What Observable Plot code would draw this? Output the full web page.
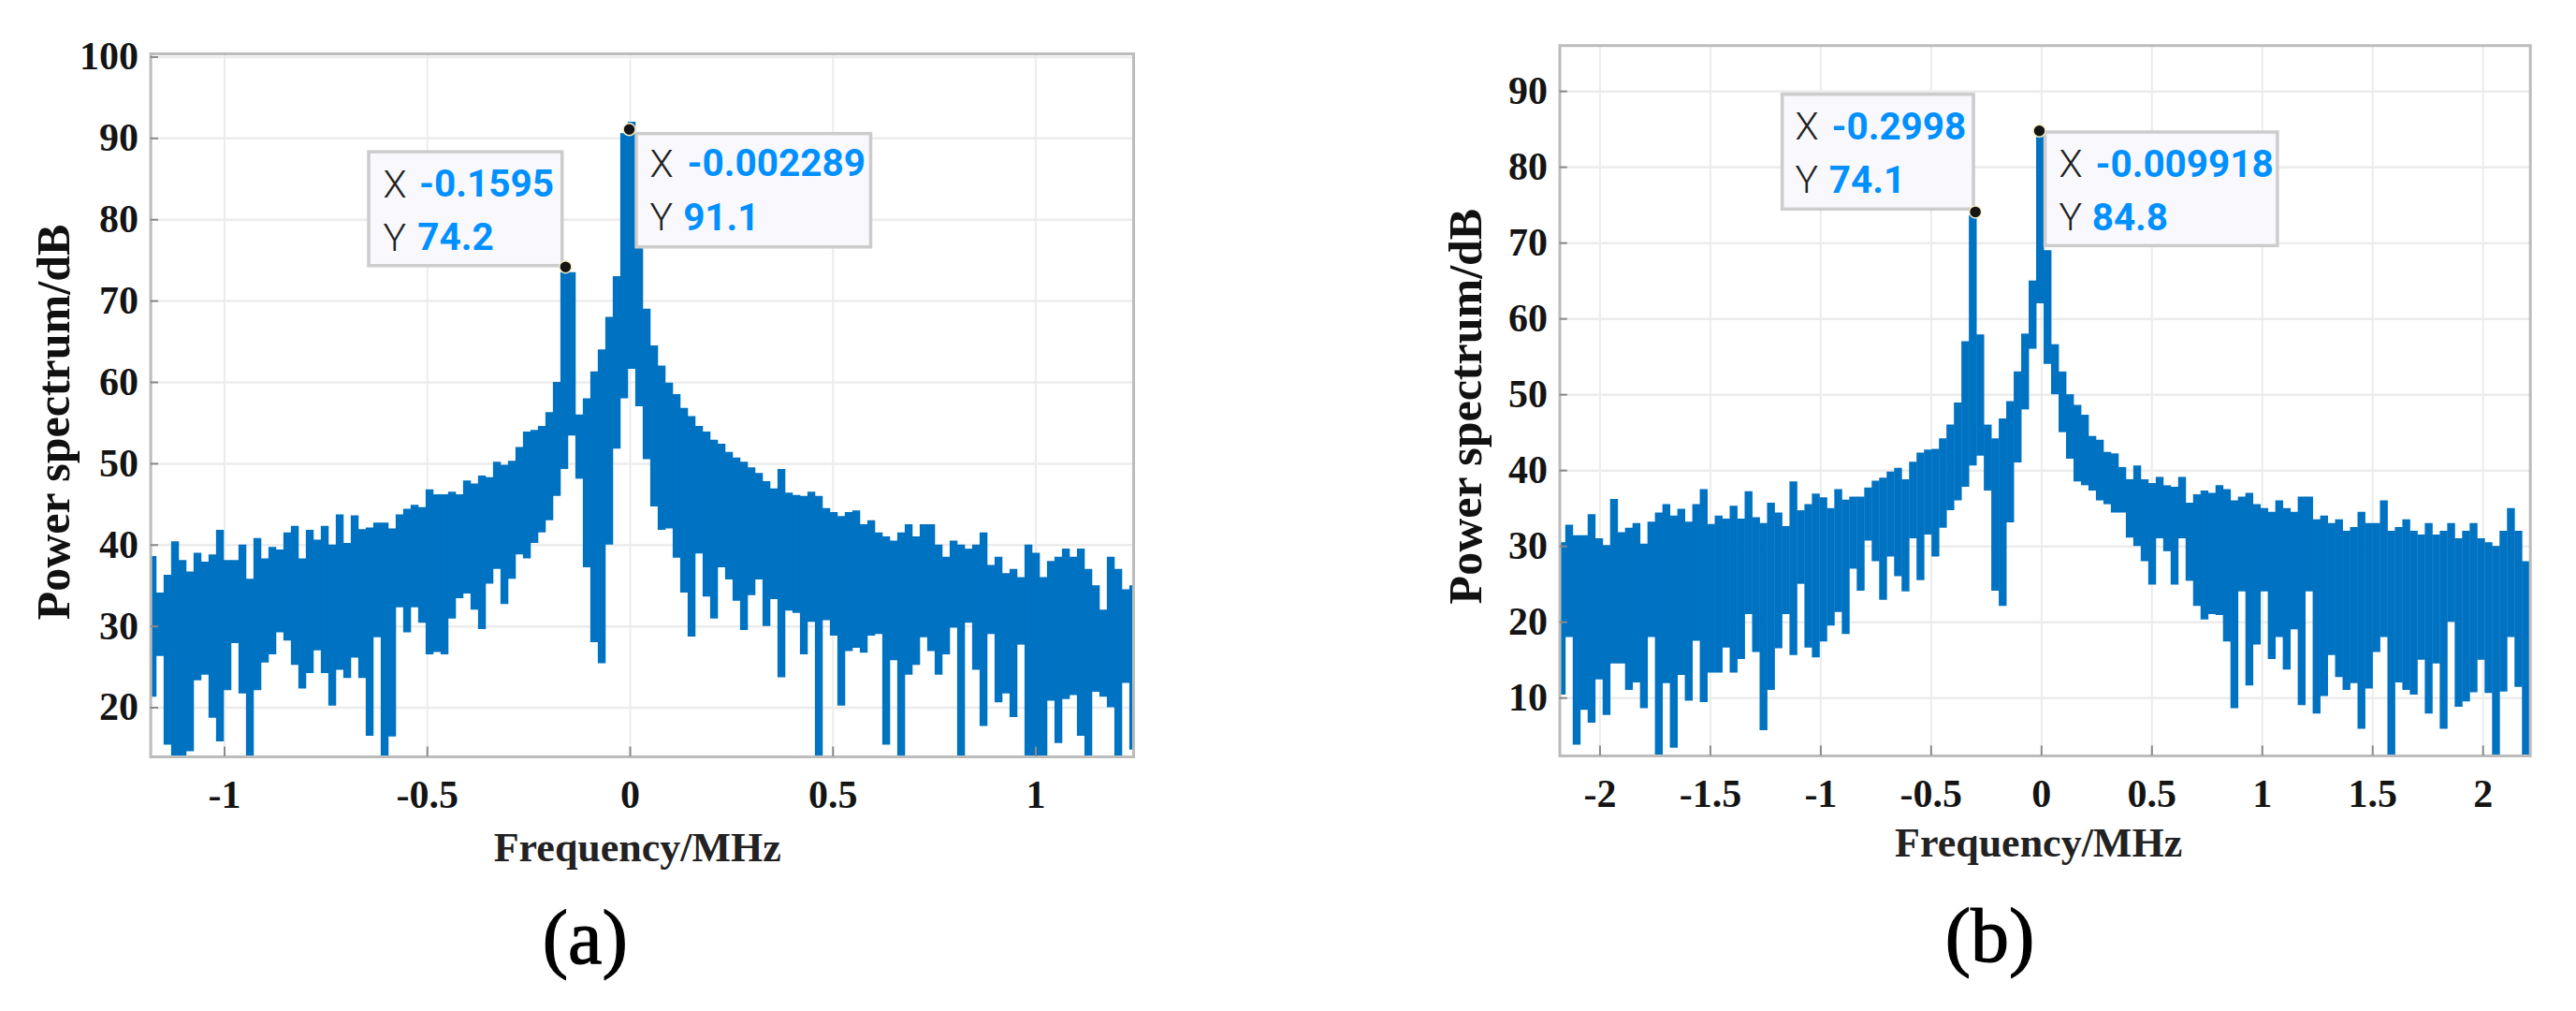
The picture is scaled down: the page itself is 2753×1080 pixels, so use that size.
<!DOCTYPE html>
<html><head><meta charset="utf-8">
<script src="https://cdn.jsdelivr.net/npm/d3@7"></script>
<script src="https://cdn.jsdelivr.net/npm/@observablehq/plot@0.6"></script>
<style>
html,body{margin:0;padding:0;background:#fff;width:2753px;height:1080px;overflow:hidden}
#root{position:relative;width:2753px;height:1080px}
#root svg{position:absolute;top:0;max-width:none;background:transparent}
</style></head><body><div id="root"></div>
<script>
// ---- panel (a) ----
const startA=-1.1775, stepA=0.018455;
const upperA=[38.6,34.1,36.3,40.4,38.1,36.7,39,37.9,38.8,41.8,
38.1,38.1,40,35.8,40.8,38.3,39.7,39.4,41.5,42.3,
38.3,41.8,40.6,42.3,40,43.7,40.2,43.6,41.9,42.1,
42.7,42.7,42,43.7,44.4,44.9,44.6,46.8,46.2,46.2,
46.5,46.2,47.9,47.5,48.5,48.3,50.2,49.8,50.3,52,
53.9,54.1,54.6,56.3,60,73.5,73.5,56,58,61.3,
64,68,73,90.6,92,77,69,64.5,62,59.9,
58.5,56.8,55.8,54.6,53.9,52.9,52.4,51.4,50.7,50.2,
49.5,48.8,47.8,46.9,49.3,46.4,46.1,46,46.5,46,
44.5,44,43.5,44,44.2,42.5,43,41.5,41,40.5,
41.5,42.5,41,42.5,42.5,40,38.5,40.5,40,39.5,
40,41.5,37.5,38.5,36.5,37,36,40,39,36,
38,38.5,39.5,38.5,39.5,37,35,32,38.5,37,
34.5,35];
const lowerA=[21.3,26.3,15.4,13,13,14.6,23.3,24,18.7,15.8,
22.1,27.9,21.7,13,22.1,25.5,26.5,29.2,28.2,25.2,
22.3,24.2,27,24.2,20.2,24.6,23.6,26.1,23.6,16.5,
28.6,13,16.4,32.3,29.2,32.3,30.4,26.5,26.8,26.5,
30.9,33.4,34,32,29.6,35.2,37,32.7,35.8,38.8,
38.3,40.2,41.5,43,46,49.3,53.4,48.1,37.2,28,
25.4,40,51.8,58,61.6,57,50.5,44.7,41.8,42,
38.4,34.1,28.7,38.9,33.6,30.9,37.2,35.7,33.1,29.5,
33.8,35.7,30,33.3,23.7,31.9,31.6,26.5,30.5,13,
30.7,28.8,20.2,26.9,27.3,26.7,28.8,29,15.4,25.8,
13,24,25.2,28.6,26.9,24,26.5,29.8,13,30.4,
24.6,17.7,29,20.6,21.7,18.8,27.7,13,13,13,
20.8,15.6,21,21.5,16.5,13,21.9,21.3,20,13,
23,14.8];
const xTicksA=[-1,-0.5,0,0.5,1];
const yTicksA=[20,30,40,50,60,70,80,90,100];
const xDomainA=[-1.182,1.241], yDomainA=[13.96,100.4];
const peaksXA=[-0.1595,-0.002289], peaksYA=[74.2,91.1];
const boxesA=[{x1:-0.6436,x2:-0.1668,y1:74.3,y2:88.3},{x1:0.0162,x2:0.594,y1:76.6,y2:90.54}];
const tipKeysA=[{t:"X",x:-0.609,y:84.29},{t:"Y",x:-0.609,y:77.73},{t:"X",x:0.0484,y:86.82},{t:"Y",x:0.0484,y:80.18}];
const tipValsA=[{t:"-0.1595",x:-0.52,y:84.29},{t:"74.2",x:-0.5243,y:77.73},{t:"-0.002289",x:0.1407,y:86.82},{t:"91.1",x:0.1306,y:80.18}];

// ---- panel (b) ----
const startB=-2.1735, stepB=0.033855;
const upperB=[30.5,32.8,31.4,31.4,34.2,31,30.1,36.2,31.8,32.4,
33,30.3,33.2,34.4,35.5,34,34.9,33.2,35.5,37.5,
32.9,34,33.6,35.3,33.6,37.2,33.8,33,35.7,34.4,
32.6,38.5,34.7,35.5,36.9,36.4,35,37.5,36.1,36.5,
36.5,37.7,38.6,39,39.8,40.3,38.8,41.1,42.3,42.7,
42.8,44.2,46,48.9,57,73.6,57.9,46,44.2,46.8,
49.1,53,58,65,84.3,69,56.6,53,50,48.6,
47.3,44.5,44,42.4,42.2,40.4,38.8,40.6,38.8,38.3,
39.1,38,37.8,39.1,35.7,36.8,37.3,37,38,37.5,
36,36.5,37,35.5,35,34.5,36,35,34.5,36.5,
36.5,33.5,34,33,33.5,32,32.5,34.5,33,33,
36,32,32.5,33.5,32,31.5,33,31.5,32,33,
31,32,33,31,30.5,30,32,35,32,28];
const lowerB=[10.4,18,3.8,8.4,6.7,12.4,7.7,14.5,14.5,11,
12,8.6,18,2,11.9,3.4,13,9.6,17.5,9.4,
13.3,13.3,16.6,13.3,15.1,21,16,5.7,11,16.5,
21,15.6,25,16.6,15.3,17.4,19.5,21.3,18.4,27,
24.1,30.7,28,22.9,28.6,26,24,31,25.5,31.5,
28.6,32.4,34.7,36,37.8,40.6,41.9,37.3,24.1,22.1,
33.1,41,48,56,62,54,50,45,41.5,38.5,
38,37.3,36,35.5,34.4,34.4,31.1,30,28,24.9,
31,29.3,24.9,31,25.4,22.1,20.3,21,20.9,17.4,
8.6,24,11.6,17,24,15.1,18,13.7,19,9,
24,7.9,10.2,15.6,12.7,11,11.9,5.9,11.2,16,
18,2,12,11,10.4,15,7.9,14.5,5.9,20,
8.8,9.5,10.7,15,10.6,2,10.8,18,11.4,2];
const xTicksB=[-2,-1.5,-1,-0.5,0,0.5,1,1.5,2];
const yTicksB=[10,20,30,40,50,60,70,80,90];
const xDomainB=[-2.182,2.214], yDomainB=[2.37,96.04];
const peaksXB=[-0.2998,-0.009918], peaksYB=[74.1,84.8];
const boxesB=[{x1:-1.1727,x2:-0.3063,y1:74.42,y2:89.56},{x1:0.0178,x2:1.0703,y1:69.6,y2:84.58}];
const tipKeysB=[{t:"X",x:-1.116,y:85.32},{t:"Y",x:-1.116,y:78.2},{t:"X",x:0.0791,y:80.38},{t:"Y",x:0.0791,y:73.26}];
const tipValsB=[{t:"-0.2998",x:-0.951,y:85.32},{t:"74.1",x:-0.9624,y:78.2},{t:"-0.009918",x:0.2442,y:80.38},{t:"84.8",x:0.2281,y:73.26}];

const BLUE="#0072c2", TIP="#0090ff", GRID="#ececec", FRAME="#bcbcbc";
const SERIF="'Liberation Serif','Times New Roman',serif", SANS="Roboto,sans-serif";

function panel(o){
  const cols=o.upper.map((u,i)=>({f:o.start+i*o.step,hi:u,lo:o.lower[i]}));
  const tickH=(o.yDomain[1]-o.yDomain[0])*0.014, tickW=(o.xDomain[1]-o.xDomain[0])*0.008;
  return Plot.plot({
    width:o.width,height:1080,
    marginLeft:o.ml,marginRight:o.mr,marginTop:o.mt,marginBottom:o.mb,
    x:{domain:o.xDomain},y:{domain:o.yDomain},
    style:{fontFamily:SERIF,fontSize:"42px",fontWeight:"bold",color:"#141414",background:"transparent"},
    marks:[
      Plot.gridX(o.xTicks,{stroke:GRID,strokeOpacity:1,strokeWidth:2}),
      Plot.gridY(o.yTicks,{stroke:GRID,strokeOpacity:1,strokeWidth:2.5}),
      Plot.ruleX(cols,{x:"f",y1:"lo",y2:"hi",stroke:BLUE,strokeWidth:8.4,clip:true}),
      Plot.frame({stroke:FRAME,strokeWidth:3}),
      Plot.ruleX(o.xTicks,{x:d=>d,y1:o.yDomain[0],y2:o.yDomain[0]+tickH,stroke:"#8a8a8a",strokeWidth:2}),
      Plot.ruleY(o.yTicks,{y:d=>d,x1:o.xDomain[0],x2:o.xDomain[0]+tickW,stroke:"#8a8a8a",strokeWidth:2}),
      Plot.axisX(o.xTicks,{anchor:"bottom",tickSize:0,tickPadding:o.xPad,label:null,tickFormat:d=>String(d),fontSize:42,fontWeight:"bold"}),
      Plot.axisY(o.yTicks,{anchor:"left",tickSize:0,tickPadding:13,label:null,tickFormat:d=>String(d),fontSize:42,fontWeight:"bold"}),
      Plot.rect(o.boxes,{x1:"x1",x2:"x2",y1:"y1",y2:"y2",fill:"#f9f9fd",stroke:"#cccccc",strokeWidth:3.5}),
      Plot.text(o.keys,{x:"x",y:"y",text:"t",textAnchor:"start",fontFamily:SANS,fontSize:41,fontWeight:"300",fill:"#222"}),
      Plot.text(o.vals,{x:"x",y:"y",text:"t",textAnchor:"start",fontFamily:SANS,fontSize:40.5,fontWeight:"700",fill:TIP}),
      Plot.dot(o.peaksX.map((x,i)=>({x,y:o.peaksY[i]})),{x:"x",y:"y",r:6.5,fill:"#151515",stroke:"#f4efc4",strokeWidth:1.5}),
      Plot.text(["Frequency/MHz"],{frameAnchor:"bottom",lineAnchor:"middle",dx:o.xlDx,dy:o.xlDy,fontFamily:SERIF,fontSize:44,fontWeight:"bold",fill:"#222"}),
      Plot.text(["Power spectrum/dB"],{frameAnchor:"left",textAnchor:"middle",lineAnchor:"middle",dx:o.ylDx,dy:o.ylDy,rotate:-90,fontFamily:SERIF,fontSize:50,fontWeight:"bold",fill:"#111"}),
      Plot.text([o.cap],{frameAnchor:"bottom",lineAnchor:"middle",dx:o.capDx,dy:o.capDy,fontFamily:SERIF,fontSize:82,fontWeight:"normal",fill:"#000",stroke:"#000",strokeWidth:1.2})
    ]
  });
}
const root=document.getElementById("root");
const a=panel({width:1376,ml:160.6,mr:165,mt:57,mb:272,start:startA,step:stepA,upper:upperA,lower:lowerA,
  xDomain:xDomainA,yDomain:yDomainA,xTicks:xTicksA,yTicks:yTicksA,peaksX:peaksXA,peaksY:peaksYA,
  boxes:boxesA,keys:tipKeysA,vals:tipValsA,xPad:25,xlDx:-5,xlDy:97,ylDx:-103,ylDy:18,cap:"(a)",capDx:-61,capDy:194});
const b=panel({width:1377,ml:290.5,mr:49.3,mt:48.2,mb:273,start:startB,step:stepB,upper:upperB,lower:lowerB,
  xDomain:xDomainB,yDomain:yDomainB,xTicks:xTicksB,yTicks:yTicksB,peaksX:peaksXB,peaksY:peaksYB,
  boxes:boxesB,keys:tipKeysB,vals:tipValsB,xPad:25,xlDx:-7,xlDy:93,ylDx:-100.5,ylDy:6,cap:"(b)",capDx:-59,capDy:193});
a.style.left="0px"; b.style.left="1376px";
root.append(a,b);
</script></body></html>
